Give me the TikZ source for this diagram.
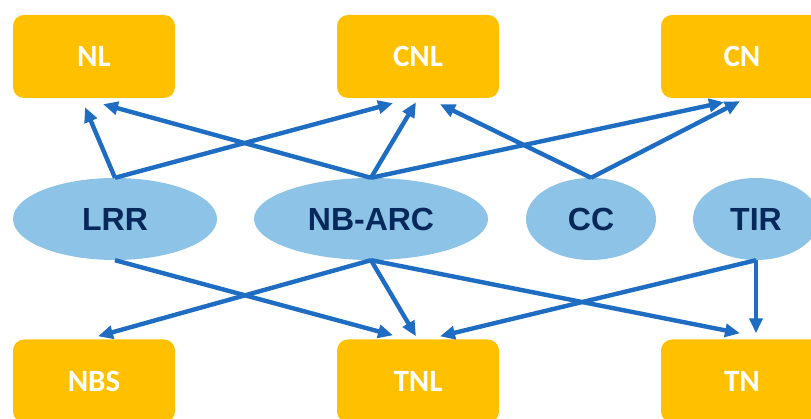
\documentclass[tikz,border=0pt]{standalone}
\usepackage{fontspec}
\newfontfamily\boxfont{Carlito}
\newfontfamily\ellfont{Liberation Sans}
\usetikzlibrary{shapes.geometric,arrows.meta,calc}
\definecolor{boxfill}{HTML}{FFC000}
\definecolor{ellfill}{HTML}{8CC3E7}
\definecolor{elltext}{HTML}{06285A}
\definecolor{arrowc}{HTML}{1F6DC2}
\tikzset{
  orbox/.style={fill=boxfill, rounded corners=11pt, minimum width=162pt, minimum height=83pt, inner sep=0pt, text=white, font=\boxfont\bfseries\fontsize{31pt}{34pt}\selectfont},
  domell/.style={ellipse, fill=ellfill, inner sep=0pt, text=elltext, font=\ellfont\bfseries\fontsize{32pt}{36pt}\selectfont},
  conn/.style={draw=arrowc, line width=4.4pt, -{Triangle[length=15pt,width=13pt]}}
}
\begin{document}
\begin{tikzpicture}[x=1pt,y=-1pt]
\useasboundingbox (0,0) rectangle (811,419);
\clip (0,0) rectangle (811,419);
% top boxes
\node[orbox] (NL) at (94,56.5) {NL};
\node[orbox] (CNL) at (418,56.5) {CNL};
\node[orbox] (CN) at (742,56.5) {CN};
% bottom boxes
\node[orbox] (NBS) at (94,381) {NBS};
\node[orbox] (TNL) at (418,381) {TNL};
\node[orbox] (TN) at (742,381) {TN};
% ellipses
\node[domell, minimum width=204pt, minimum height=82pt] (LRR) at (115,219) {LRR};
\node[domell, minimum width=234pt, minimum height=82pt] (NBARC) at (371,219) {NB-ARC};
\node[domell, minimum width=130pt, minimum height=82pt] (CC) at (591,219) {CC};
\node[domell, minimum width=126pt, minimum height=82pt] (TIR) at (756,219) {TIR};
% upper connectors
\draw[conn] (LRR.north) -- ($(NL.south)+(-9,9)$);
\draw[conn] (LRR.north) -- ($(CNL.south)+(-25,5)$);
\draw[conn] (NBARC.north) -- ($(NL.south)+(9,6)$);
\draw[conn] (NBARC.north) -- ($(CNL.south)+(-2,4)$);
\draw[conn] (NBARC.north) -- ($(CN.south)+(-18,4)$);
\draw[conn] (CC.north) -- ($(CNL.south)+(22,6)$);
\draw[conn] (CC.north) -- ($(CN.south)+(-2,3)$);
% lower connectors
\draw[conn] (LRR.south) -- ($(TNL.north)+(-25,-4)$);
\draw[conn] (NBARC.south) -- ($(NBS.north)+(4,-3)$);
\draw[conn] (NBARC.south) -- ($(TNL.north)+(-2,-3)$);
\draw[conn] (NBARC.south) -- ($(TN.north)+(-2,-6)$);
\draw[conn] (TIR.south) -- ($(TNL.north)+(22,-3)$);
\draw[conn] (TIR.south) -- ($(TIR.south |- TN.north)+(0,-6)$);
\end{tikzpicture}
\end{document}
